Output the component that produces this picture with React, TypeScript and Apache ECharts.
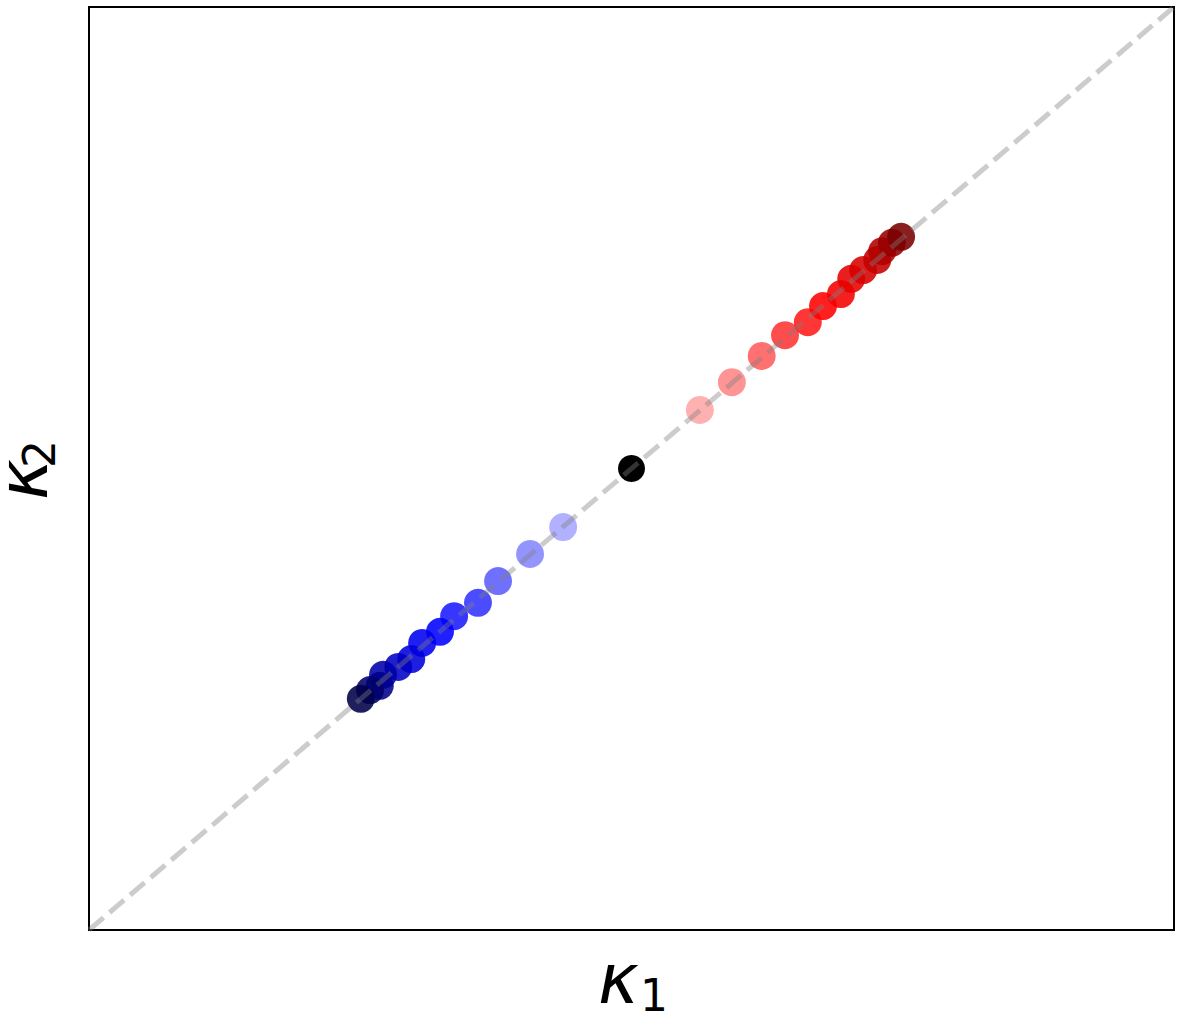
import React, { useEffect, useRef } from "react";
import * as echarts from "echarts";

// Red branch (light -> dark), data units in [-1, 1]
const redX = [0.126, 0.185, 0.240, 0.283, 0.325, 0.353, 0.386, 0.405, 0.427, 0.453, 0.462, 0.480, 0.497];
const redY = [0.127, 0.187, 0.244, 0.289, 0.317, 0.352, 0.378, 0.411, 0.430, 0.452, 0.471, 0.489, 0.502];
const redColors = ["#ffa6a6", "#ff8585", "#ff5c5c", "#ff3333", "#ff1a1a", "#ff0000", "#f50000", "#e60000", "#d60000", "#c40000", "#b00000", "#960000", "#7a0000"];

// Blue branch (light -> dark)
const blueX = [-0.126, -0.187, -0.246, -0.283, -0.327, -0.353, -0.386, -0.406, -0.430, -0.458, -0.464, -0.482, -0.499];
const blueY = [-0.127, -0.185, -0.244, -0.291, -0.320, -0.354, -0.378, -0.413, -0.430, -0.447, -0.471, -0.480, -0.499];
const blueColors = ["#a6a6ff", "#8585ff", "#5c5cff", "#3333ff", "#1a1aff", "#0000ff", "#0000f0", "#0000dc", "#0000c4", "#0000a8", "#00008c", "#00006c", "#000048"];

const centerPoint = [0, 0];
const diagonal = [[-1, -1], [1, 1]];

export default function App() {
  const ref = useRef<HTMLDivElement>(null);
  useEffect(() => {
    if (!ref.current) return;
    const chart = echarts.init(ref.current, undefined, { renderer: "svg" });
    const redData = redX.map((x, i) => ({ value: [x, redY[i]], itemStyle: { color: redColors[i] } }));
    const blueData = blueX.map((x, i) => ({ value: [x, blueY[i]], itemStyle: { color: blueColors[i] } }));
    const font = "DejaVu Sans";
    chart.setOption({
      animation: false,
      backgroundColor: "#ffffff",
      grid: { left: 89, top: 7, width: 1085, height: 923, show: true, borderColor: "#000", borderWidth: 2, backgroundColor: "transparent" },
      xAxis: { type: "value", min: -1, max: 1, axisLine: { show: false }, axisTick: { show: false }, axisLabel: { show: false }, splitLine: { show: false } },
      yAxis: { type: "value", min: -1, max: 1, axisLine: { show: false }, axisTick: { show: false }, axisLabel: { show: false }, splitLine: { show: false } },
      series: [
        { type: "scatter", data: blueData, symbolSize: 28, itemStyle: { opacity: 0.88 }, z: 2 },
        { type: "scatter", data: redData, symbolSize: 28, itemStyle: { opacity: 0.88 }, z: 2 },
        { type: "scatter", data: [centerPoint], symbolSize: 27, itemStyle: { color: "#000", opacity: 1 }, z: 2 },
        { type: "line", data: diagonal, symbol: "none", lineStyle: { color: "rgba(128,128,128,0.4)", width: 5, type: [19, 8] }, z: 3 },
      ],
      graphic: [
        { type: "text", x: 598, y: 979, style: { text: "κ", fontSize: 69, lineHeight: 44, fontStyle: "italic", fontFamily: font, fill: "#000", align: "left", verticalAlign: "middle" } },
        { type: "text", x: 640, y: 995, style: { text: "1", fontSize: 44, lineHeight: 32, fontFamily: font, fill: "#000", align: "left", verticalAlign: "middle" } },
        {
          type: "group", x: 47, y: 500, rotation: Math.PI / 2,
          children: [
            { type: "text", x: 0, y: -24, style: { text: "κ", fontSize: 69, lineHeight: 44, fontStyle: "italic", fontFamily: font, fill: "#000", align: "left", verticalAlign: "middle" } },
            { type: "text", x: 32, y: -8, style: { text: "2", fontSize: 44, lineHeight: 32, fontFamily: font, fill: "#000", align: "left", verticalAlign: "middle" } },
          ],
        },
      ],
    });
    return () => chart.dispose();
  }, []);
  return <div ref={ref} style={{ position: "fixed", left: 0, top: 0, width: 1181, height: 1019 }} />;
}
